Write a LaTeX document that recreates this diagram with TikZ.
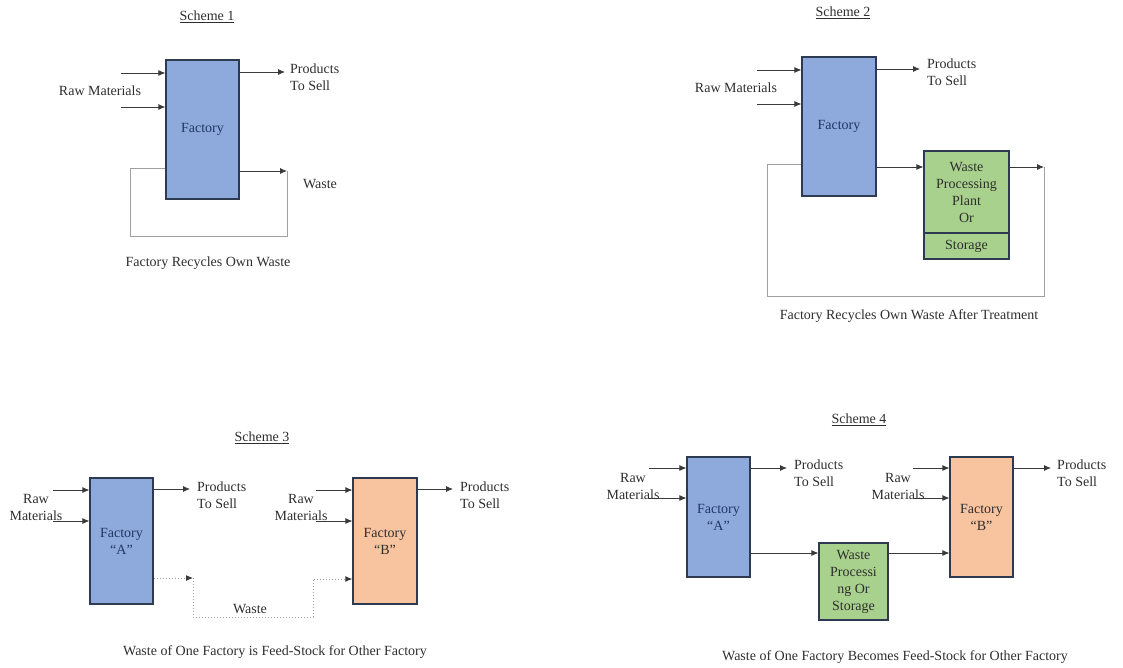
\documentclass[tikz,border=0pt]{standalone}
\usepackage{fontspec}
\setmainfont{Liberation Serif}
\usetikzlibrary{arrows.meta}
\definecolor{facblue}{HTML}{8EA9DB}
\definecolor{facpeach}{HTML}{F8C4A0}
\definecolor{wpgreen}{HTML}{A9D18E}
\definecolor{edge}{HTML}{2E3A4F}
\definecolor{ink}{HTML}{2E2E2E}
\definecolor{navy}{HTML}{1F3864}
\definecolor{loopc}{HTML}{A0A0A0}
\definecolor{arrc}{HTML}{3A3A3A}
\begin{document}
\begin{tikzpicture}[x=1pt,y=-1pt,
 every node/.style={font=\fontsize{14}{17}\selectfont, text=ink, inner sep=0pt},
 box/.style={draw=edge, line width=1.2pt, align=center},
 fac/.style={box, fill=facblue, text=navy},
 facb/.style={box, fill=facpeach},
 wp/.style={box, fill=wpgreen},
 arr/.style={draw=arrc, line width=0.8pt, -{Latex[length=7pt,width=6pt]}},
 loopline/.style={draw=loopc, line width=1pt},
 dotarr/.style={draw=loopc, line width=1pt, dotted, -{Latex[length=7pt,width=6pt,color=arrc]}},
 lbl/.style={align=left, anchor=west},
 twoline/.style={align=center},
]
\useasboundingbox (0,0) rectangle (1123,668);

% ---------------- Scheme 1
\node (t1) at (207,17) {\underline{Scheme 1}};
\node[fac, minimum width=73pt, minimum height=139pt] (f1) at (202.5,129.5) {Factory};
\coordinate (r1a) at (121,73);
\coordinate (r1b) at (121,107);
\draw[arr] (r1a) -- (f1.west |- r1a);
\draw[arr] (r1b) -- (f1.west |- r1b);
\node (rm1) at (100,91) {Raw Materials};
\coordinate (p1) at (285,72);
\draw[arr] (f1.east |- p1) -- (p1);
\node[lbl] (pt1) at (290,77) {Products\\To Sell};
\coordinate (w1) at (287,171);
\coordinate (w1b) at (287,237);
\coordinate (w1c) at (130,237);
\coordinate (w1d) at (130,169);
\draw[arr] (f1.east |- w1) -- (w1);
\draw[loopline] (w1) -- (w1b) -- (w1c) -- (w1d) -- (f1.west |- w1d);
\node (wl1) at (320,184) {Waste};
\node (c1) at (208,263) {Factory Recycles Own Waste};

% ---------------- Scheme 2
\node (t2) at (843,13) {\underline{Scheme 2}};
\node[fac, minimum width=74pt, minimum height=139pt] (f2) at (839,126.5) {Factory};
\coordinate (r2a) at (757,70);
\coordinate (r2b) at (757,104);
\draw[arr] (r2a) -- (f2.west |- r2a);
\draw[arr] (r2b) -- (f2.west |- r2b);
\node (rm2) at (736,88) {Raw Materials};
\coordinate (p2) at (920,69);
\draw[arr] (f2.east |- p2) -- (p2);
\node[lbl] (pt2) at (927,72.5) {Products\\To Sell};
\node[wp, minimum width=85pt, minimum height=82pt] (wp2) at (966.5,192) {Waste\\Processing\\Plant\\Or};
\node[wp, minimum width=85pt, minimum height=26pt] (st2) at (966.5,246) {Storage};
\coordinate (y2) at (900,167);
\draw[arr] (f2.east |- y2) -- (wp2.west |- y2);
\coordinate (o2) at (1044,167);
\coordinate (o2b) at (1044,296);
\coordinate (o2c) at (767,296);
\coordinate (o2d) at (767,165);
\draw[arr] (wp2.east |- o2) -- (o2);
\draw[loopline] (o2) -- (o2b) -- (o2c) -- (o2d) -- (f2.west |- o2d);
\node (c2) at (909,316) {Factory Recycles Own Waste After Treatment};

% ---------------- Scheme 3
\node (t3) at (262,438) {\underline{Scheme 3}};
\node[fac, minimum width=63pt, minimum height=126pt] (fa3) at (121.5,541) {Factory\\“A”};
\node[facb, minimum width=64pt, minimum height=126pt] (fb3) at (385,541) {Factory\\“B”};
\coordinate (r3a) at (53,490);
\coordinate (r3b) at (53,521);
\draw[arr] (r3a) -- (fa3.west |- r3a);
\draw[arr] (r3b) -- (fa3.west |- r3b);
\node[twoline] (rm3) at (36,507.5) {Raw\\Materials};
\coordinate (p3) at (190,489);
\draw[arr] (fa3.east |- p3) -- (p3);
\node[lbl] (pt3) at (197,495) {Products\\To Sell};
\coordinate (r3c) at (316,490);
\coordinate (r3d) at (316,521);
\draw[arr] (r3c) -- (fb3.west |- r3c);
\draw[arr] (r3d) -- (fb3.west |- r3d);
\node[twoline] (rm3b) at (301,507.5) {Raw\\Materials};
\coordinate (p3b) at (453,489);
\draw[arr] (fb3.east |- p3b) -- (p3b);
\node[lbl] (pt3b) at (460,495) {Products\\To Sell};
\coordinate (wa3) at (193,578);
\coordinate (wa3b) at (193,617);
\coordinate (wa3c) at (313,617);
\coordinate (wa3d) at (313,579);
\draw[dotarr] (fa3.east |- wa3) -- (wa3);
\draw[dotarr] (wa3) -- (wa3b) -- (wa3c) -- (wa3d) -- (fb3.west |- wa3d);
\node (wl3) at (250,609) {Waste};
\node (c3) at (275,652) {Waste of One Factory is Feed-Stock for Other Factory};

% ---------------- Scheme 4
\node (t4) at (859,420) {\underline{Scheme 4}};
\node[fac, minimum width=63pt, minimum height=120pt] (fa4) at (718.5,517) {Factory\\“A”};
\node[facb, minimum width=63pt, minimum height=120pt] (fb4) at (981.5,517) {Factory\\“B”};
\node[wp, minimum width=69pt, minimum height=77pt] (wp4) at (853.5,581.5) {Waste\\Processi\\ng Or\\Storage};
\coordinate (r4a) at (649,468);
\coordinate (r4b) at (649,498);
\draw[arr] (r4a) -- (fa4.west |- r4a);
\draw[arr] (r4b) -- (fa4.west |- r4b);
\node[twoline] (rm4) at (633,486) {Raw\\Materials};
\coordinate (p4) at (787,468);
\draw[arr] (fa4.east |- p4) -- (p4);
\node[lbl] (pt4) at (794,473.5) {Products\\To Sell};
\coordinate (r4c) at (913,468);
\coordinate (r4d) at (913,498);
\draw[arr] (r4c) -- (fb4.west |- r4c);
\draw[arr] (r4d) -- (fb4.west |- r4d);
\node[twoline] (rm4b) at (898,486) {Raw\\Materials};
\coordinate (p4b) at (1051,468);
\draw[arr] (fb4.east |- p4b) -- (p4b);
\node[lbl] (pt4b) at (1057,473.5) {Products\\To Sell};
\coordinate (y4) at (800,553);
\draw[arr] (fa4.east |- y4) -- (wp4.west |- y4);
\draw[arr] (wp4.east |- y4) -- (fb4.west |- y4);
\node (c4) at (895,657) {Waste of One Factory Becomes Feed-Stock for Other Factory};
\end{tikzpicture}
\end{document}
